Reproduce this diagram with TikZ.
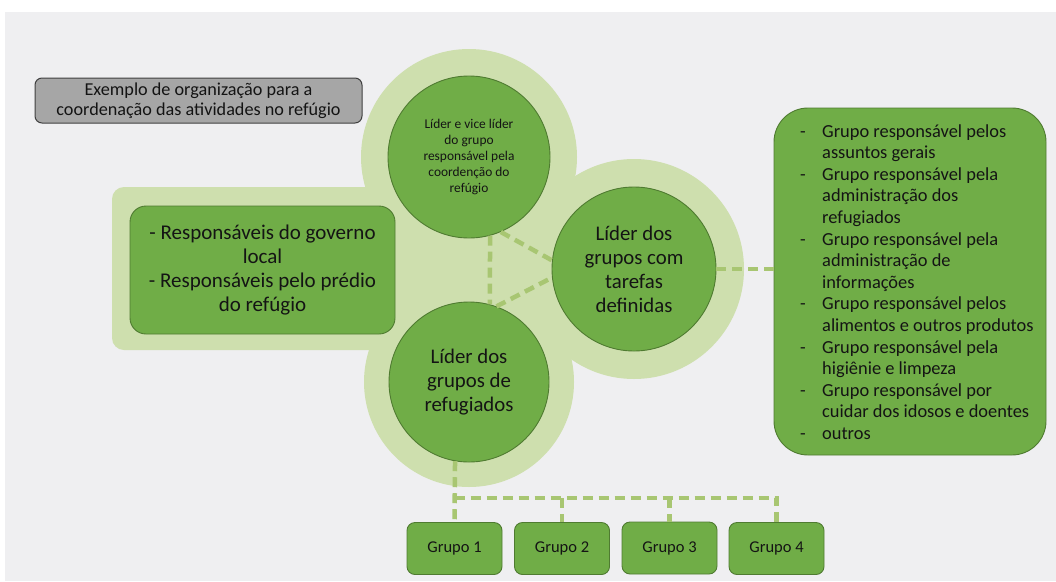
\documentclass[tikz,border=0pt]{standalone}
\usepackage{fontspec}
\setmainfont{Carlito}
\usepackage{array}
\definecolor{bgc}{HTML}{EFEFF1}
\definecolor{halo}{HTML}{CEDFAE}
\definecolor{gfill}{HTML}{70AD47}
\definecolor{gline}{HTML}{4F7B31}
\definecolor{dashc}{HTML}{A8C672}
\definecolor{tbox}{HTML}{A6A6A6}
\definecolor{ink}{HTML}{141414}
\begin{document}
\begin{tikzpicture}[x=1pt,y=-1pt,
  gcirc/.style={circle,fill=gfill,draw=gline,line width=0.9pt,align=center,text=ink,inner sep=0pt},
  gbox/.style={rectangle,rounded corners=#1,fill=gfill,draw=gline,line width=0.9pt,text=ink,inner sep=0pt},
  gbox/.default=12pt,
  conn/.style={draw=dashc,line width=4.5pt,dash pattern=on 10pt off 6pt},
  grp/.style={gbox=8pt,minimum width=95pt,minimum height=52pt,font=\fontsize{16.5}{20}\selectfont}]
\useasboundingbox (0,0) rectangle (1056,581);
\fill[white] (0,0) rectangle (1056,581);
\fill[bgc] (5,12) rectangle (1056,581);
% light halos
\fill[halo] (469,157) circle (108pt);
\fill[halo] (634,269) circle (110pt);
\fill[halo] (469,382) circle (105pt);
\fill[halo,rounded corners=12pt] (112,187) rectangle (430,350);
\fill[halo] (400,157) rectangle (570,382);
% title
\node[rectangle,rounded corners=7pt,fill=tbox,draw=black!75,line width=1pt,minimum width=327pt,minimum height=45pt,align=center,inner sep=0pt,text=ink,font=\fontsize{18.2}{20.5}\selectfont] (title) at (198.5,100.5) {Exemplo de organização para a\\coordenação das atividades no refúgio};
% circles
\node[gcirc,minimum size=162pt,font=\fontsize{13.4}{16}\selectfont] (lider) at (469,157) {Líder e vice líder\\do grupo\\responsável pela\\coordenção do\\refúgio};
\node[gcirc,minimum size=164pt,font=\fontsize{20.8}{24}\selectfont] (tarefas) at (634,269) {Líder dos\\grupos com\\tarefas\\definidas};
\node[gcirc,minimum size=160pt,font=\fontsize{20.8}{24}\selectfont] (refug) at (469,382) {Líder dos\\grupos de\\refugiados};
% left box
\node[gbox=16pt,minimum width=265pt,minimum height=128pt,align=center,font=\fontsize{21}{24}\selectfont] (gov) at (262.5,270) {- Responsáveis do governo\\local\\- Responsáveis pelo prédio\\do refúgio};
% right box
\node[gbox=34pt,minimum width=272pt,minimum height=347pt] (grupos) at (910,281.5) {};
\node[anchor=west,inner sep=0pt,text=ink,font=\fontsize{18.4}{21.6}\selectfont] (lista) at (800,284) {%
\begin{tabular}{@{}p{22pt}@{}l@{}}
- & Grupo responsável pelos\\
  & assuntos gerais\\
- & Grupo responsável pela\\
  & administração dos\\
  & refugiados\\
- & Grupo responsável pela\\
  & administração de\\
  & informações\\
- & Grupo responsável pelos\\
  & alimentos e outros produtos\\
- & Grupo responsável pela\\
  & higiênie e limpeza\\
- & Grupo responsável por\\
  & cuidar dos idosos e doentes\\
- & outros
\end{tabular}};
% groups
\node[grp] (g1) at (454.5,548.5) {Grupo 1};
\node[grp] (g2) at (562,548.5) {Grupo 2};
\node[grp] (g3) at (669.5,548) {Grupo 3};
\node[grp] (g4) at (776.5,548.5) {Grupo 4};
% connectors
\draw[conn] (lider.-75) -- (refug.75);
\draw[conn] (lider.-67) -- (tarefas.174);
\draw[conn] (refug.70) -- (tarefas.186);
\draw[conn] (tarefas.east) -- (tarefas.east -| grupos.west);
\coordinate (bus) at (454.5,498);
\draw[conn] (refug.-100) -- (g1.north);
\draw[conn] (bus) -| (g4.north);
\draw[conn] (bus -| g2.north) -- (g2.north);
\draw[conn] (bus -| g3.north) -- (g3.north);
\end{tikzpicture}
\end{document}
